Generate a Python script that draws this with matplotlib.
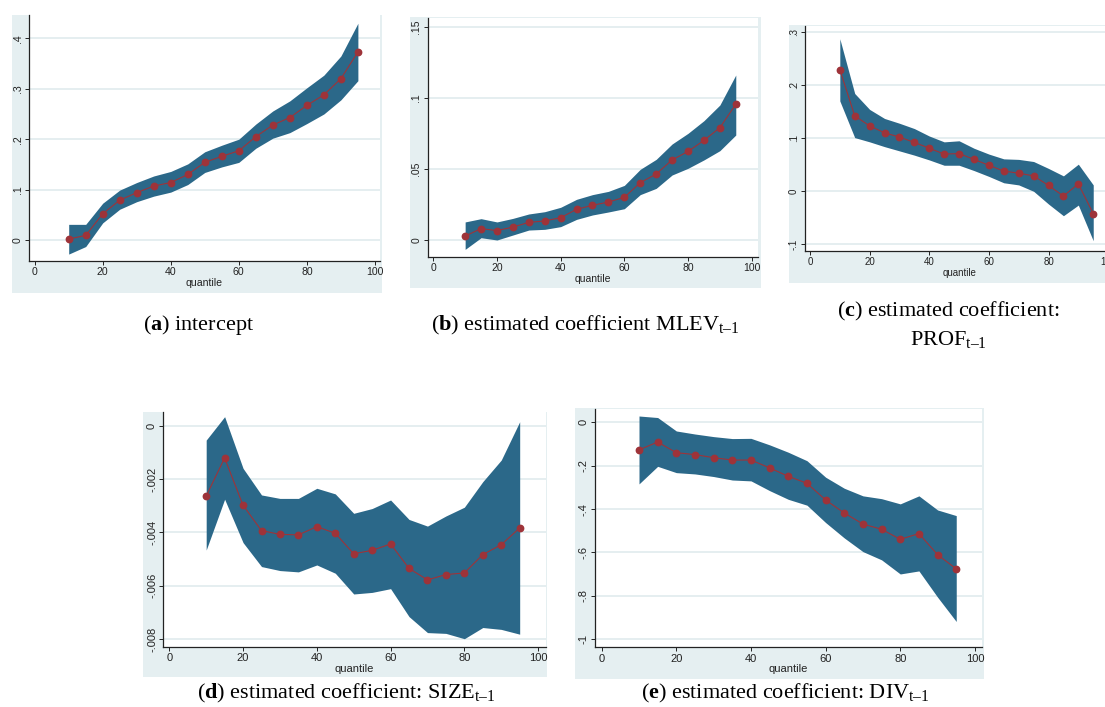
import matplotlib
matplotlib.use("Agg")
import matplotlib.pyplot as plt
from matplotlib.patches import Rectangle

plt.rcParams['mathtext.fontset'] = 'custom'
plt.rcParams['mathtext.rm'] = 'Liberation Serif'
plt.rcParams['mathtext.bf'] = 'Liberation Serif:bold'
plt.rcParams['mathtext.it'] = 'Liberation Serif:italic'

# ---------------- data ----------------
quantiles = [10, 15, 20, 25, 30, 35, 40, 45, 50, 55, 60, 65, 70, 75, 80, 85, 90, 95]

intercept_est = [0.002, 0.009, 0.052, 0.079, 0.094, 0.107, 0.114, 0.130, 0.154, 0.166,
                 0.177, 0.205, 0.228, 0.243, 0.267, 0.288, 0.320, 0.373]
intercept_hi = [0.031, 0.031, 0.073, 0.099, 0.114, 0.127, 0.136, 0.151, 0.175, 0.188,
                0.200, 0.230, 0.256, 0.276, 0.302, 0.327, 0.365, 0.430]
intercept_lo = [-0.028, -0.013, 0.034, 0.061, 0.076, 0.087, 0.095, 0.110, 0.134, 0.145,
                0.154, 0.182, 0.202, 0.213, 0.231, 0.250, 0.278, 0.316]

mlev_est = [0.0028, 0.0080, 0.0066, 0.0091, 0.0124, 0.0134, 0.0157, 0.0216, 0.0244, 0.0267,
            0.0300, 0.0403, 0.0464, 0.0563, 0.0623, 0.0700, 0.0790, 0.0954]
mlev_hi = [0.0127, 0.0150, 0.0127, 0.0152, 0.0183, 0.0199, 0.0230, 0.0286, 0.0319, 0.0342,
           0.0384, 0.0497, 0.0567, 0.0675, 0.0750, 0.0839, 0.0949, 0.1160]
mlev_lo = [-0.0066, 0.0016, 0.0000, 0.0035, 0.0070, 0.0075, 0.0094, 0.0145, 0.0176, 0.0197,
           0.0220, 0.0319, 0.0363, 0.0457, 0.0504, 0.0563, 0.0628, 0.0738]

prof_est = [0.229, 0.142, 0.123, 0.110, 0.102, 0.092, 0.081, 0.070, 0.071, 0.060,
            0.049, 0.038, 0.034, 0.029, 0.011, -0.009, 0.014, -0.042]
prof_hi = [0.287, 0.184, 0.154, 0.137, 0.128, 0.118, 0.104, 0.093, 0.095, 0.081,
           0.070, 0.061, 0.060, 0.056, 0.043, 0.029, 0.051, 0.012]
prof_lo = [0.170, 0.101, 0.093, 0.084, 0.076, 0.068, 0.059, 0.049, 0.049, 0.039,
           0.028, 0.016, 0.012, 0.000, -0.024, -0.046, -0.026, -0.093]

size_est = [-0.00263, -0.00120, -0.00298, -0.00393, -0.00407, -0.00409, -0.00378, -0.00403,
            -0.00480, -0.00467, -0.00443, -0.00535, -0.00578, -0.00558, -0.00552, -0.00483,
            -0.00446, -0.00383]
size_hi = [-0.00053, 0.00035, -0.00159, -0.00259, -0.00272, -0.00272, -0.00234, -0.00255,
           -0.00328, -0.00310, -0.00278, -0.00351, -0.00376, -0.00338, -0.00305, -0.00209,
           -0.00128, 0.00016]
size_lo = [-0.00466, -0.00275, -0.00438, -0.00528, -0.00543, -0.00548, -0.00522, -0.00553,
           -0.00631, -0.00625, -0.00611, -0.00716, -0.00776, -0.00779, -0.00799, -0.00757,
           -0.00764, -0.00782]

div_est = [-0.127, -0.091, -0.140, -0.149, -0.163, -0.174, -0.174, -0.210, -0.249, -0.281,
           -0.358, -0.418, -0.469, -0.493, -0.539, -0.513, -0.610, -0.676]
div_hi = [0.029, 0.022, -0.040, -0.054, -0.066, -0.075, -0.074, -0.104, -0.138, -0.177,
          -0.253, -0.304, -0.339, -0.352, -0.376, -0.339, -0.404, -0.430]
div_lo = [-0.284, -0.203, -0.232, -0.238, -0.250, -0.266, -0.270, -0.315, -0.355, -0.382,
          -0.462, -0.533, -0.596, -0.634, -0.699, -0.685, -0.806, -0.918]

x_ticks = [0, 20, 40, 60, 80, 100]
x_ticklabels = ["0", "20", "40", "60", "80", "100"]

a_yticks = [0, 0.1, 0.2, 0.3, 0.4]
a_ylabels = ["0", ".1", ".2", ".3", ".4"]
b_yticks = [0, 0.05, 0.1, 0.15]
b_ylabels = ["0", ".05", ".1", ".15"]
c_yticks = [-0.1, 0, 0.1, 0.2, 0.3]
c_ylabels = ["-.1", "0", ".1", ".2", ".3"]
d_yticks = [-0.008, -0.006, -0.004, -0.002, 0]
d_ylabels = ["-.008", "-.006", "-.004", "-.002", "0"]
e_yticks = [-1, -0.8, -0.6, -0.4, -0.2, 0]
e_ylabels = ["-1", "-.8", "-.6", "-.4", "-.2", "0"]

# ---------------- style ----------------
W, H = 1105, 707
BG = "#e5eff1"
BAND = "#2b6889"
RED = "#9e3339"
GRID = "#e3edef"

fig = plt.figure(figsize=(W / 100, H / 100), dpi=100)
fig.patch.set_facecolor("white")


def px_rect(l, t, r, b):
    return [l / W, 1 - b / H, (r - l) / W, (b - t) / H]


panels = [
    dict(est=intercept_est, lo=intercept_lo, hi=intercept_hi, yt=a_yticks, yl=a_ylabels,
         ax=(29, 15, 380, 261), bg=(12, 15, 382, 293), xlim=(-1.67, 101.5),
         ylim=(-0.0417, 0.4464), fs=7.6),
    dict(est=mlev_est, lo=mlev_lo, hi=mlev_hi, yt=b_yticks, yl=b_ylabels,
         ax=(427.7, 18, 758, 256.7), bg=(410, 17, 761, 288), xlim=(-1.76, 101.98),
         ylim=(-0.01174, 0.1561), fs=7.5),
    dict(est=prof_est, lo=prof_lo, hi=prof_hi, yt=c_yticks, yl=c_ylabels,
         ax=(805, 26, 1115, 250.7), bg=(789, 25, 1110, 283), xlim=(-1.68, 102.3),
         ylim=(-0.1118, 0.3110), fs=7.0),
    dict(est=size_est, lo=size_lo, hi=size_hi, yt=d_yticks, yl=d_ylabels,
         ax=(163.3, 412, 545.5, 646.7), bg=(142.7, 411.7, 546.7, 676.7), xlim=(-1.63, 102.0),
         ylim=(-0.00829, 0.000526), fs=8.0),
    dict(est=div_est, lo=div_lo, hi=div_hi, yt=e_yticks, yl=e_ylabels,
         ax=(595, 409, 982, 647.3), bg=(575, 408, 983.5, 679), xlim=(-1.79, 101.9),
         ylim=(-1.037, 0.0613), fs=8.0),
]

for p in panels:
    l, t, r, b = p["bg"]
    fig.add_artist(Rectangle((l / W, 1 - b / H), (r - l) / W, (b - t) / H,
                             transform=fig.transFigure, facecolor=BG, edgecolor="none",
                             zorder=0))
    ax = fig.add_axes(px_rect(*p["ax"]))
    ax.set_facecolor("white")
    ax.fill_between(quantiles, p["lo"], p["hi"], color=BAND, lw=0, zorder=2)
    ax.plot(quantiles, p["est"], color=RED, lw=0.8, marker="o", ms=4.6,
            mfc=RED, mec=RED, zorder=3)
    ax.set_xlim(*p["xlim"])
    ax.set_ylim(*p["ylim"])
    ax.set_xticks(x_ticks)
    ax.set_xticklabels(x_ticklabels, fontsize=p["fs"], family="Liberation Sans")
    ax.set_yticks(p["yt"])
    ax.set_yticklabels(p["yl"], fontsize=p["fs"], family="Liberation Sans",
                       rotation=90, va="center")
    ax.tick_params(axis="both", direction="out", length=3, width=0.7, color="#222222",
                   pad=1.5, labelcolor="#222222")
    ax.set_xlabel("quantile", fontsize=p["fs"], family="Liberation Sans",
                  labelpad=0.5, color="#222222")
    for s in ("top", "right"):
        ax.spines[s].set_visible(False)
    for s in ("left", "bottom"):
        ax.spines[s].set_color("#222222")
        ax.spines[s].set_linewidth(0.9)
    ax.yaxis.grid(True, color=GRID, lw=1.3)
    ax.xaxis.grid(False)
    ax.set_axisbelow(True)

# ---------------- captions ----------------
CFS = 16
cap = dict(ha="center", va="center", fontsize=CFS, family="Liberation Serif", color="black")
fig.text(199 / W, 1 - 325 / H, r"($\mathbf{a}$) intercept", **cap)
fig.text(585 / W, 1 - 325 / H, r"($\mathbf{b}$) estimated coefficient MLEV$_{\mathrm{t–1}}$", **cap)
fig.text(948 / W, 1 - 311 / H, r"($\mathbf{c}$) estimated coefficient:", **cap)
fig.text(948 / W, 1 - 340 / H, r"PROF$_{\mathrm{t–1}}$", **cap)
fig.text(346 / W, 1 - 693 / H, r"($\mathbf{d}$) estimated coefficient: SIZE$_{\mathrm{t–1}}$", **cap)
fig.text(785 / W, 1 - 693 / H, r"($\mathbf{e}$) estimated coefficient: DIV$_{\mathrm{t–1}}$", **cap)

fig.savefig("out.png", dpi=100, facecolor="white")
